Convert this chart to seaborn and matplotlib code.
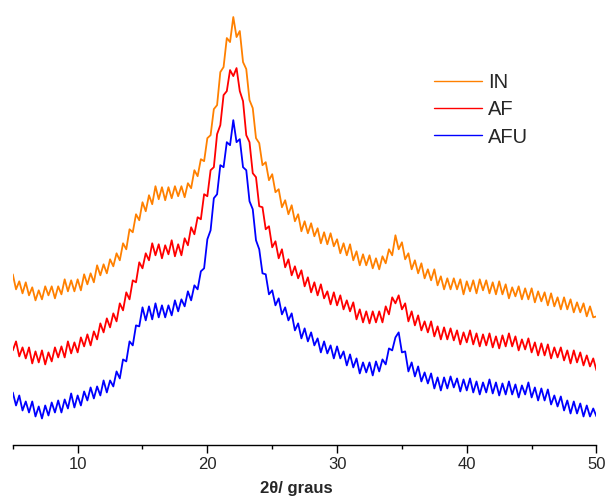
import pandas as pd
import numpy as np
import matplotlib
matplotlib.use('Agg')
import matplotlib.pyplot as plt
import seaborn as sns
from matplotlib.ticker import MultipleLocator

# 2theta grid (degrees), 0.25 deg step
two_theta = [5 + 0.25 * i for i in range(181)]

# intensities (arbitrary units, noisy patterns)
IN = [174, 159, 167, 155, 166, 153, 161, 148, 158, 149,
      162, 153, 162, 150, 162, 154, 169, 157, 168, 157,
      169, 158, 174, 164, 175, 166, 183, 173, 184, 175,
      189, 182, 195, 188, 205, 199, 219, 216, 234, 228,
      246, 237, 253, 244, 262, 249, 261, 248, 261, 250,
      262, 252, 262, 251, 265, 260, 278, 272, 289, 287,
      310, 313, 339, 343, 376, 381, 410, 406, 431, 411,
      417, 386, 379, 348, 340, 310, 305, 283, 286, 268,
      274, 256, 259, 241, 248, 234, 243, 227, 234, 217,
      227, 215, 225, 212, 220, 205, 216, 204, 215, 202,
      209, 195, 205, 193, 204, 188, 197, 183, 194, 183,
      193, 180, 190, 179, 192, 185, 199, 193, 213, 199,
      206, 189, 195, 179, 188, 175, 185, 170, 179, 168,
      179, 163, 172, 159, 170, 159, 170, 159, 169, 154,
      167, 157, 168, 155, 169, 158, 168, 155, 166, 154,
      167, 154, 164, 150, 161, 152, 162, 149, 160, 149,
      160, 146, 157, 147, 156, 143, 155, 142, 151, 139,
      151, 139, 149, 136, 146, 136, 145, 132, 142, 131,
      132]

AF = [98, 107, 92, 101, 90, 101, 85, 97, 86, 98,
      84, 96, 87, 101, 91, 102, 91, 107, 95, 106,
      96, 111, 102, 114, 103, 117, 109, 125, 116, 130,
      121, 135, 127, 145, 138, 156, 149, 168, 166, 186,
      180, 195, 188, 205, 193, 204, 190, 203, 194, 208,
      192, 204, 193, 210, 203, 221, 214, 231, 229, 254,
      252, 278, 281, 314, 323, 353, 357, 378, 372, 380,
      357, 347, 313, 306, 275, 271, 242, 241, 219, 222,
      201, 207, 190, 199, 181, 189, 173, 182, 170, 178,
      162, 171, 156, 166, 153, 164, 150, 157, 144, 156,
      143, 153, 139, 148, 137, 146, 129, 139, 126, 137,
      125, 137, 126, 137, 126, 142, 134, 151, 145, 153,
      139, 145, 127, 137, 123, 133, 118, 127, 116, 127,
      112, 122, 109, 121, 109, 120, 108, 118, 104, 116,
      106, 118, 104, 115, 102, 114, 103, 115, 101, 112,
      100, 113, 102, 115, 102, 112, 98, 109, 99, 110,
      96, 106, 93, 105, 93, 104, 90, 101, 91, 101,
      88, 98, 85, 98, 86, 96, 83, 93, 82, 90,
      78]

AFU = [56, 43, 53, 38, 47, 36, 47, 32, 42, 30,
       43, 33, 46, 36, 48, 36, 49, 40, 55, 41,
       53, 43, 57, 48, 61, 50, 62, 53, 68, 56,
       68, 62, 77, 70, 89, 87, 107, 103, 123, 122,
       141, 128, 142, 129, 145, 131, 143, 131, 143, 133,
       148, 137, 149, 142, 157, 148, 163, 159, 177, 180,
       209, 218, 250, 254, 283, 281, 306, 303, 328, 306,
       309, 281, 278, 247, 239, 208, 199, 175, 174, 154,
       158, 143, 150, 134, 141, 128, 135, 118, 125, 110,
       120, 107, 116, 103, 110, 96, 107, 95, 103, 90,
       102, 90, 97, 83, 94, 81, 90, 75, 86, 76,
       86, 73, 87, 77, 89, 84, 100, 98, 111, 116,
       96, 97, 77, 86, 72, 82, 67, 76, 65, 75,
       60, 71, 58, 71, 60, 72, 61, 70, 57, 69,
       58, 70, 56, 67, 54, 66, 56, 69, 55, 66,
       53, 65, 54, 67, 54, 64, 51, 63, 54, 66,
       51, 61, 48, 60, 48, 59, 44, 53, 42, 52,
       38, 48, 35, 47, 35, 45, 32, 43, 32, 40,
       32]

samples = ['IN', 'AF', 'AFU']
colors = ['#FF8000', '#FF0000', '#0000FF']

df = pd.concat([
    pd.DataFrame({'two_theta': two_theta, 'intensity': vals, 'sample': name})
    for name, vals in zip(samples, [IN, AF, AFU])
])

sns.set_style('white')
plt.rcParams['font.family'] = ['Liberation Sans', 'DejaVu Sans']

fig = plt.figure(figsize=(6.06, 4.96), dpi=100)
ax = fig.add_axes([0.0211, 0.1038, 0.9632, 0.876])

sns.lineplot(data=df, x='two_theta', y='intensity', hue='sample',
             hue_order=samples, palette=colors, lw=1.3, ax=ax, legend=False)

ax.set_xlim(5, 50)
ax.set_ylim(4, 438)
ax.set_yticks([])
ax.set_ylabel('')
for s in ['top', 'right', 'left']:
    ax.spines[s].set_visible(False)
ax.spines['bottom'].set_color('black')
ax.spines['bottom'].set_linewidth(1.0)

ax.xaxis.set_major_locator(MultipleLocator(10))
ax.xaxis.set_minor_locator(MultipleLocator(5))
ax.tick_params(axis='x', which='major', direction='out', length=6, width=1,
               color='black', labelsize=12, pad=3, bottom=True)
ax.tick_params(axis='x', which='minor', direction='out', length=3, width=1,
               color='black', bottom=True)

ax.set_xlabel('2θ/ graus', fontsize=12, fontweight='bold', labelpad=0)
ax.xaxis.set_label_coords(0.485, -0.085)

handles = [plt.Line2D([], [], color=c, lw=1) for c in colors]
ax.legend(handles, samples, loc='upper left', bbox_to_anchor=(0.716, 0.852),
          bbox_transform=fig.transFigure, frameon=False, fontsize=14.5,
          handlelength=2.4, handletextpad=0.3, labelspacing=0.4,
          borderpad=0, borderaxespad=0)

fig.savefig('out.png', dpi=100)
